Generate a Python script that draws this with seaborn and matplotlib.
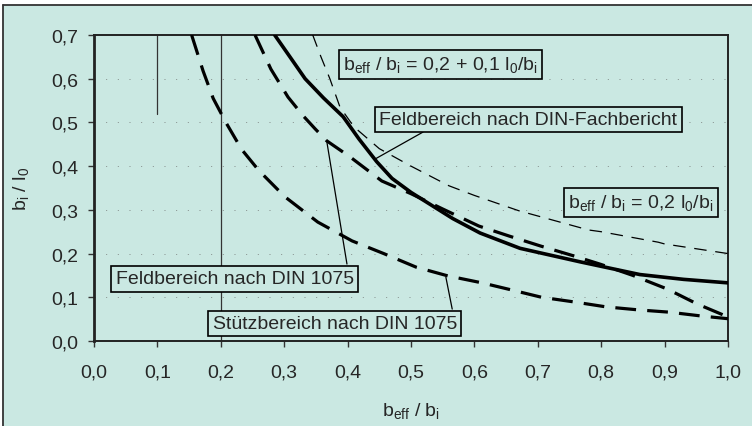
"""Mitwirkende Plattenbreite: b_i / l_0 over b_eff / b_i (DIN 1075 vs. DIN-Fachbericht)."""
import matplotlib
matplotlib.use("Agg")
import matplotlib.pyplot as plt
import numpy as np
import pandas as pd
import seaborn as sns
from matplotlib.lines import Line2D
from matplotlib.patches import Rectangle

# ----------------------------------------------------------------------------- data
# thin dashed: b_eff / b_i = 0,2 l0/b_i
grenz_x = [0.345, 0.358, 0.372, 0.388, 0.41, 0.45, 0.50, 0.56, 0.60, 0.67, 0.70, 0.78, 0.80, 0.89, 0.90, 1.00]
grenz_y = [0.700, 0.650, 0.600, 0.535, 0.490, 0.440, 0.400, 0.355, 0.333, 0.298, 0.286, 0.254, 0.250, 0.226, 0.222, 0.200]

# thick solid: Feldbereich nach DIN-Fachbericht
fach_x = [0.285, 0.310, 0.333, 0.362, 0.393, 0.418, 0.446, 0.470, 0.500, 0.566, 0.609, 0.636, 0.672, 0.767, 0.861, 0.930, 1.000]
fach_y = [0.700, 0.648, 0.600, 0.556, 0.513, 0.462, 0.410, 0.372, 0.340, 0.280, 0.247, 0.232, 0.212, 0.181, 0.152, 0.141, 0.133]

# thick dashed: Feldbereich nach DIN 1075
feld_x = [0.254, 0.279, 0.306, 0.330, 0.349, 0.367, 0.385, 0.404, 0.454, 0.500, 0.550, 0.607, 0.655, 0.705, 0.756, 0.800, 0.850, 0.904, 0.951, 1.000]
feld_y = [0.700, 0.622, 0.558, 0.515, 0.485, 0.458, 0.440, 0.421, 0.366, 0.337, 0.302, 0.263, 0.240, 0.217, 0.195, 0.175, 0.150, 0.119, 0.085, 0.055]

# thick dashed: Stuetzbereich nach DIN 1075
stuetz_x = [0.154, 0.172, 0.188, 0.208, 0.233, 0.260, 0.301, 0.353, 0.407, 0.457, 0.508, 0.558, 0.612, 0.658, 0.706, 0.759, 0.808, 0.860, 0.907, 0.959, 1.000]
stuetz_y = [0.700, 0.618, 0.555, 0.500, 0.438, 0.390, 0.330, 0.272, 0.229, 0.200, 0.169, 0.149, 0.133, 0.117, 0.100, 0.089, 0.078, 0.071, 0.066, 0.057, 0.051]

# thin vertical reference lines
ref_x = [0.1, 0.2]
ref_top = [0.7, 0.7]
ref_bottom = [0.52, 0.0]

x_ticks = [0.0, 0.1, 0.2, 0.3, 0.4, 0.5, 0.6, 0.7, 0.8, 0.9, 1.0]
x_ticklabels = ["0,0", "0,1", "0,2", "0,3", "0,4", "0,5", "0,6", "0,7", "0,8", "0,9", "1,0"]
y_ticks = [0.0, 0.1, 0.2, 0.3, 0.4, 0.5, 0.6, 0.7]
y_ticklabels = ["0,0", "0,1", "0,2", "0,3", "0,4", "0,5", "0,6", "0,7"]

labels = [
    r"b$_{\rm eff}$ / b$_{\rm i}$ = 0,2 + 0,1 l$_0$/b$_{\rm i}$",
    "Feldbereich nach DIN-Fachbericht",
    r"b$_{\rm eff}$ / b$_{\rm i}$ = 0,2 l$_0$/b$_{\rm i}$",
    "Feldbereich nach DIN 1075",
    "Stützbereich nach DIN 1075",
]
label_x = [0.546, 0.685, 0.863, 0.222, 0.380]
label_y = [0.633, 0.507, 0.317, 0.142, 0.040]

# leader lines (from box to curve)
leader_from = [(0.519, 0.478), (0.399, 0.176), (0.565, 0.073)]
leader_to = [(0.443, 0.416), (0.367, 0.458), (0.555, 0.146)]

BG = "#cae8e2"
FS = 14

# ----------------------------------------------------------------------------- style
sns.set_style("ticks")
plt.rcParams["font.family"] = ["Liberation Sans", "DejaVu Sans"]
plt.rcParams["mathtext.fontset"] = "custom"
plt.rcParams["mathtext.rm"] = "Liberation Sans"
plt.rcParams["mathtext.it"] = "Liberation Sans"

fig = plt.figure(figsize=(7.52, 4.27), dpi=100)
fig.patch.set_facecolor("white")
W, H = 752, 427
fig.add_artist(Rectangle((3 / W, 0), 1, (H - 6) / H, transform=fig.transFigure,
                         facecolor=BG, edgecolor="none", zorder=-10))
fig.add_artist(Line2D([3 / W, 1], [(H - 6) / H] * 2, transform=fig.transFigure, color="#333333", lw=1.3))
fig.add_artist(Line2D([3 / W] * 2, [0, (H - 6) / H], transform=fig.transFigure, color="#333333", lw=1.3))

ax = fig.add_axes([94 / W, (H - 342) / H, (728 - 94) / W, (342 - 36) / H])
ax.set_facecolor(BG)

# faint, sparse dotted grid
for yv in y_ticks[1:-1]:
    ax.axhline(yv, color="#666666", lw=0.7, ls=(0, (1, 11)), alpha=0.7, zorder=1)

for xv, y0, y1 in zip(ref_x, ref_bottom, ref_top):
    ax.plot([xv, xv], [y0, y1], color="#333333", lw=0.9, zorder=2)

curves = pd.concat([
    pd.DataFrame({"x": grenz_x, "y": grenz_y, "kurve": "grenz"}),
    pd.DataFrame({"x": fach_x, "y": fach_y, "kurve": "fach"}),
    pd.DataFrame({"x": feld_x, "y": feld_y, "kurve": "feld"}),
    pd.DataFrame({"x": stuetz_x, "y": stuetz_y, "kurve": "stuetz"}),
], ignore_index=True)

styles = {
    "grenz": dict(lw=0.9, linestyle=(0, (10, 7))),
    "fach": dict(lw=2.6, linestyle="-"),
    "feld": dict(lw=2.3, linestyle=(0, (6.5, 3.5))),
    "stuetz": dict(lw=2.3, linestyle=(0, (6.5, 3.5))),
}
for name, sub in curves.groupby("kurve", sort=False):
    sns.lineplot(data=sub, x="x", y="y", sort=False, estimator=None, color="black",
                 ax=ax, zorder=3, **styles[name])

for (x0, y0), (x1, y1) in zip(leader_from, leader_to):
    ax.plot([x0, x1], [y0, y1], color="black", lw=0.9, zorder=4)

for txt, tx, ty in zip(labels, label_x, label_y):
    ax.text(tx, ty, txt, ha="center", va="center", fontsize=FS, zorder=5,
            bbox=dict(boxstyle="square,pad=0.22", facecolor=BG, edgecolor="black", lw=1.2))

ax.set_xlim(0, 1.0)
ax.set_ylim(0, 0.7)
ax.set_xticks(x_ticks)
ax.set_xticklabels(x_ticklabels)
ax.set_yticks(y_ticks)
ax.set_yticklabels(y_ticklabels)
ax.tick_params(axis="both", labelsize=FS, direction="out", length=4, width=1, color="#333333")
ax.tick_params(axis="x", pad=12)
ax.tick_params(axis="y", pad=7)
for side, lw in {"left": 2.0, "bottom": 1.4, "top": 1.4, "right": 1.4}.items():
    ax.spines[side].set_visible(True)
    ax.spines[side].set_linewidth(lw)
    ax.spines[side].set_color("#222222")

ax.set_xlabel(r"b$_{\rm eff}$ / b$_{\rm i}$", fontsize=FS, labelpad=14)
ax.set_ylabel(r"b$_{\rm i}$ / l$_0$", fontsize=FS, labelpad=15)

fig.savefig("out.png", dpi=100, facecolor=fig.get_facecolor())
